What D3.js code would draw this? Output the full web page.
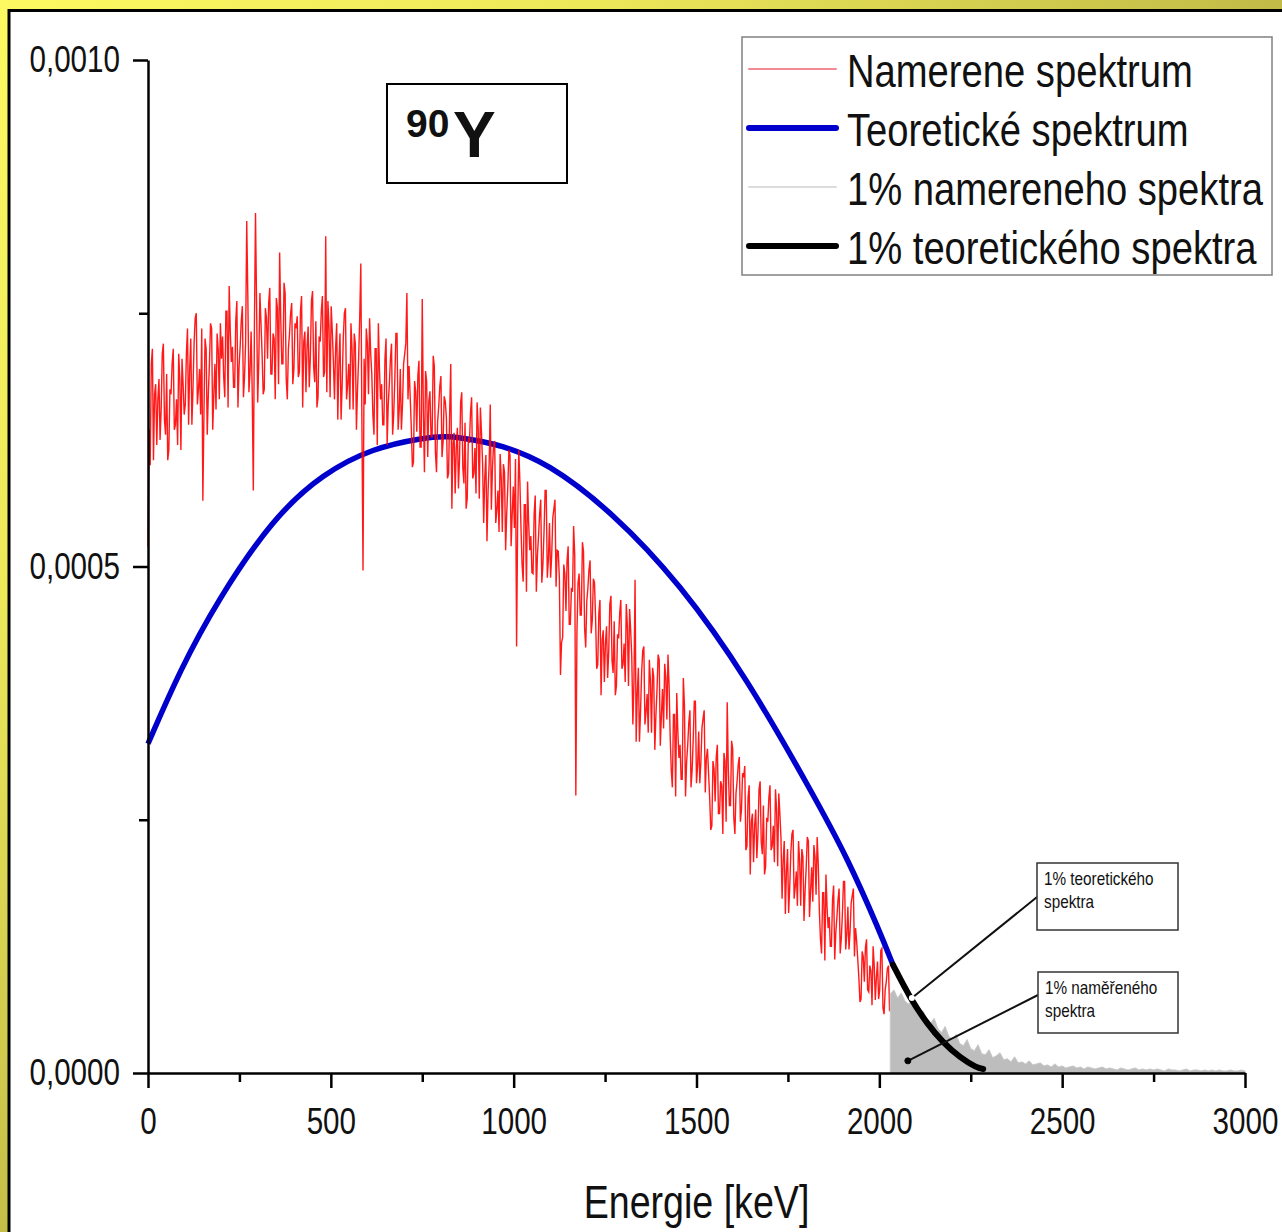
<!DOCTYPE html>
<html>
<head>
<meta charset="utf-8">
<script src="https://cdn.jsdelivr.net/npm/d3@7"></script>
<style>
  body { margin: 0; background: #fff; }
  text { font-family: "Liberation Sans", Arial, sans-serif; fill: #111; }
</style>
</head>
<body>
<div id="chart"></div>
<script>
// all intensities are in units of 1e-6

// measured spectrum, one channel every 3 keV starting at 0 keV
var measuredStep = 3;
var measured = [
  520,635,600,700,715,605,670,680,620,665,685,625,655,710,720,645,630,690,605,615,675,670,700,715,635,640,665,620,710,685,615,705,680,650,
  660,710,735,640,695,725,640,675,720,745,750,660,675,695,650,735,565,650,725,715,630,670,700,740,735,635,670,700,655,730,715,665,740,705,
  727,687,667,752,752,657,777,732,702,717,677,677,742,762,657,697,717,742,757,667,687,722,841,767,672,692,732,672,575,737,849,757,662,702,
  770,740,710,670,675,755,745,705,760,775,690,690,730,725,665,765,755,680,810,745,700,700,780,770,685,665,715,730,750,760,680,695,740,735,
  747,687,692,752,767,657,722,732,672,717,737,677,707,762,772,697,682,742,657,667,727,722,752,767,687,692,826,672,762,737,667,757,732,702,
  665,715,740,645,700,730,645,680,725,750,755,665,680,700,655,740,715,655,730,720,635,675,705,745,799,640,496,705,660,735,720,670,745,710,
  690,650,630,715,715,620,740,695,665,680,640,640,705,725,620,660,680,705,720,630,650,685,730,730,635,655,695,635,660,700,710,720,770,665,
  698,668,638,598,603,683,673,633,688,703,618,618,764,653,593,693,683,608,663,673,628,628,708,698,613,593,643,658,678,688,608,623,668,663,
  647,587,592,652,700,557,622,632,572,617,637,577,607,662,672,597,582,642,557,567,627,622,652,667,587,592,617,572,662,637,567,657,632,602,
  543,588,610,525,574,602,660,556,597,620,624,543,556,575,534,611,588,534,601,593,516,552,579,615,610,520,552,579,538,606,421,547,615,584,
  538,502,485,561,561,475,584,543,516,530,494,493,552,570,475,511,530,552,566,484,502,534,575,575,489,507,543,489,511,548,557,566,480,516,
  515,488,393,425,430,502,493,456,506,520,443,443,479,475,540,511,274,434,484,493,452,452,524,515,439,420,466,479,497,506,434,447,488,484,
  450,399,403,454,467,373,428,437,386,424,441,390,416,463,471,407,395,446,373,382,433,429,454,467,399,403,424,386,463,441,382,458,437,411,
  344,387,487,327,374,400,327,357,396,417,421,344,357,374,336,408,387,336,400,391,319,353,378,413,408,323,353,379,340,404,391,349,413,383,
  333,299,282,354,354,273,375,337,311,324,290,290,390,363,273,307,324,346,358,282,299,329,367,367,286,303,337,286,307,341,350,358,277,311,
  320,296,272,240,244,308,300,268,312,324,256,256,288,284,236,316,308,248,366,300,264,264,328,320,252,236,276,288,304,312,248,260,296,292,
  303,220,224,272,284,196,248,256,208,244,260,212,236,280,288,228,216,264,196,204,252,248,272,284,220,224,244,208,280,260,204,276,256,232,
  172,210,229,157,199,221,158,184,218,236,240,172,184,199,165,229,210,165,221,214,150,180,203,233,229,154,180,203,169,225,214,176,233,206,
  160,132,118,178,178,111,196,164,143,154,125,125,171,185,112,139,154,171,182,118,133,157,189,189,122,136,164,122,140,168,175,182,115,143,
  130,112,94,70,73,120,115,90,124,132,82,80,106,101,67,125,106,72,94,110,73,82,121,123,64,58,82,90,103,106,61,66
];

// 1% of the measured spectrum (grey), every 10 keV from 2030 keV
var tailStart = 2030, tailStep = 10;
var measuredTail = [
  78,82,74,79,71,68,72,62,58,61,
  52,49,54,44,40,46,36,33,38,29,
  27,33,24,22,28,19,18,23,15,17,
  20,13,14,11,16,10,11,9,12,8,
  9,10,7,8,6,9,6,7,5,6,
  7,5,6,4,6,5,4,5,6,4,
  5,4,3,5,4,3,4,5,3,4,
  3,4,3,4,3,2,4,3,3,2,
  3,4,2,3,3,2,3,2,3,2,
  3,2,2,3,2,2,3,2
];

// theoretical spectrum
var theoryE = [0,88,189,342,479,615,752,820,889,963,1091,1272,1455,1638,1819,1912,2002,2037,2084,2130,2174,2221,2267,2284];
var theoryV = [325,398,466,548,592,617,627,629,625,620,603,553,483,390,275,213,139,107,74,49,30,15,5,4];
var theoryCut = 2037; // from here the curve is the 1% part

var xMajor = [0,500,1000,1500,2000,2500,3000];
var xMinor = [250,750,1250,1750,2250,2750];
var yMajor = [0,500,1000];
var yMinor = [250,750];

var legendItems = ["Namerene spektrum", "Teoretické spektrum", "1% namereneho spektra", "1% teoretického spektra"];

var width = 1282, height = 1232;

var svg = d3.select("#chart").append("svg")
  .attr("width", width)
  .attr("height", height);

// yellow frame
var defs = svg.append("defs");
var grad = defs.append("radialGradient")
  .attr("id", "frame")
  .attr("gradientUnits", "userSpaceOnUse")
  .attr("cx", 0).attr("cy", 0).attr("r", 1320);
grad.append("stop").attr("offset", "0%").attr("stop-color", "#fcf962");
grad.append("stop").attr("offset", "45%").attr("stop-color", "#ece85a");
grad.append("stop").attr("offset", "100%").attr("stop-color", "#bfb846");

svg.append("rect").attr("width", width).attr("height", height).attr("fill", "url(#frame)");
svg.append("rect")
  .attr("x", 9).attr("y", 10.5)
  .attr("width", width + 20).attr("height", height + 20)
  .attr("fill", "#fff")
  .attr("stroke", "#000")
  .attr("stroke-width", 3);

var x = d3.scaleLinear().domain([0, 3000]).range([148, 1245]);
var y = d3.scaleLinear().domain([0, 1000]).range([1073, 60]);

function fmt(v) { return (v / 1e6).toFixed(4).replace(".", ","); }

// theoretical curve (blue), drawn under the measured one
var theory = theoryE.map(function(e, i) { return {e: e, v: theoryV[i]}; });
var curve = d3.line()
  .x(function(d) { return x(d.e); })
  .y(function(d) { return y(d.v); })
  .curve(d3.curveBasis);

svg.append("path")
  .datum(theory.filter(function(d) { return d.e <= theoryCut; }))
  .attr("d", curve)
  .attr("fill", "none")
  .attr("stroke", "#0000cc")
  .attr("stroke-width", 5.5);

// measured spectrum (red)
svg.append("path")
  .datum(measured)
  .attr("d", d3.line()
    .x(function(d, i) { return x(i * measuredStep); })
    .y(function(d) { return y(d); }))
  .attr("fill", "none")
  .attr("stroke", "#ff0000")
  .attr("stroke-opacity", 0.9)
  .attr("stroke-width", 1.4);

// 1% of measured spectrum (grey area)
svg.append("path")
  .datum(measuredTail)
  .attr("d", d3.area()
    .x(function(d, i) { return x(tailStart + i * tailStep); })
    .y0(y(0))
    .y1(function(d) { return y(d); }))
  .attr("fill", "#bdbdbd")
  .attr("stroke", "#c9c9c9")
  .attr("stroke-width", 1);

// 1% of theoretical spectrum (black)
svg.append("path")
  .datum(theory.filter(function(d) { return d.e >= theoryCut; }))
  .attr("d", curve)
  .attr("fill", "none")
  .attr("stroke", "#000")
  .attr("stroke-width", 6)
  .attr("stroke-linecap", "round");

// axes
svg.append("g")
  .attr("transform", "translate(0," + y(0) + ")")
  .call(d3.axisBottom(x).tickValues(xMajor).tickSize(15).tickSizeOuter(0).tickPadding(20).tickFormat(d3.format("d")));
svg.append("g")
  .attr("transform", "translate(0," + y(0) + ")")
  .call(d3.axisBottom(x).tickValues(xMinor).tickSize(9).tickFormat(""))
  .select(".domain").remove();

svg.append("g")
  .attr("transform", "translate(" + x(0) + ",0)")
  .call(d3.axisLeft(y).tickValues(yMajor).tickSize(15).tickSizeOuter(0).tickPadding(20).tickFormat(fmt));
svg.append("g")
  .attr("transform", "translate(" + x(0) + ",0)")
  .call(d3.axisLeft(y).tickValues(yMinor).tickSize(9).tickFormat(""))
  .select(".domain").remove();

svg.selectAll(".domain, .tick line")
  .attr("stroke", "#000")
  .attr("stroke-width", 2.5);
svg.selectAll(".tick text")
  .attr("transform", "scale(0.8,1)")
  .style("font-size", "37px")
  .attr("fill", "#111");

// text squeezed horizontally like the original
function label(parent, px, py, str, size, anchor, sx) {
  return parent.append("g")
    .attr("transform", "translate(" + px + "," + py + ") scale(" + sx + ",1)")
    .append("text")
    .attr("text-anchor", anchor)
    .style("font-size", size + "px")
    .text(str);
}

label(svg, (x(0) + x(3000)) / 2, 1218, "Energie [keV]", 47, "middle", 0.8);

// isotope box
svg.append("rect")
  .attr("x", 387).attr("y", 84).attr("width", 180).attr("height", 99)
  .attr("fill", "#fff").attr("stroke", "#000").attr("stroke-width", 2);
svg.append("text").attr("x", 406).attr("y", 137)
  .style("font-size", "39px").style("font-weight", "bold").text("90");
svg.append("text").attr("x", 453).attr("y", 157)
  .style("font-size", "64px").style("font-weight", "bold").text("Y");

// legend
var legend = svg.append("g");
legend.append("rect")
  .attr("x", 742).attr("y", 37).attr("width", 530).attr("height", 238)
  .attr("fill", "#fff").attr("stroke", "#808080").attr("stroke-width", 1.5);
var legendStyle = [
  {color: "#f08a94", w: 2},
  {color: "#0000cc", w: 6},
  {color: "#dcdcdc", w: 2},
  {color: "#000", w: 6}
];
legendItems.forEach(function(t, i) {
  var cy = 69 + i * 59;
  legend.append("line")
    .attr("x1", 749).attr("x2", 836).attr("y1", cy).attr("y2", cy)
    .attr("stroke", legendStyle[i].color)
    .attr("stroke-width", legendStyle[i].w)
    .attr("stroke-linecap", "round");
  label(legend, 847, cy + 18, t, 46, "start", 0.83);
});

// callouts
var callouts = [
  {box: [1037, 863, 141, 67], lines: ["1% teoretického", "spektra"], from: [1037, 897], to: [2089, 74], dot: "#fff"},
  {box: [1038, 972, 140, 61], lines: ["1% naměřeného", "spektra"], from: [1038, 995], to: [2078, 12], dot: "#000"}
];
callouts.forEach(function(c) {
  svg.append("line")
    .attr("x1", c.from[0]).attr("y1", c.from[1])
    .attr("x2", x(c.to[0])).attr("y2", y(c.to[1]))
    .attr("stroke", "#111").attr("stroke-width", 2);
  svg.append("circle")
    .attr("cx", x(c.to[0])).attr("cy", y(c.to[1])).attr("r", 3)
    .attr("fill", c.dot).attr("stroke", c.dot == "#fff" ? "none" : "#000");
  svg.append("rect")
    .attr("x", c.box[0]).attr("y", c.box[1]).attr("width", c.box[2]).attr("height", c.box[3])
    .attr("fill", "#fff").attr("stroke", "#333").attr("stroke-width", 1.5);
  c.lines.forEach(function(t, j) {
    label(svg, c.box[0] + 7, c.box[1] + 22 + j * 23, t, 18, "start", 0.85);
  });
});
</script>
</body>
</html>
